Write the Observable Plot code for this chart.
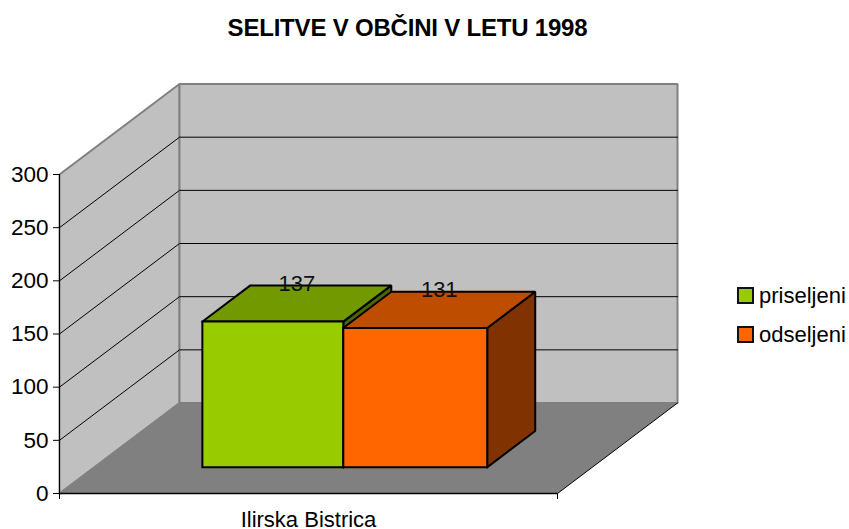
<!DOCTYPE html>
<html>
<head>
<meta charset="utf-8">
<script src="https://cdn.jsdelivr.net/npm/d3@7"></script>
<script src="https://cdn.jsdelivr.net/npm/@observablehq/plot@0.6"></script>
<style>
  html, body { margin: 0; padding: 0; background: #fff; overflow: hidden; }
  #page { position: relative; width: 849px; height: 529px; font-family: "Liberation Sans", Arial, sans-serif; color: #000; }
  #title { height: 56px; width: 815px; text-align: center; font-weight: bold; font-size: 24px; line-height: 56px; letter-spacing: -0.2px; }
  #legend { position: absolute; left: 737px; top: 282px; font-size: 22px; }
  .item { display: flex; align-items: center; height: 39px; margin: 0; }
  .swatch { width: 13px; height: 13px; border: 2px solid #111; margin-right: 5px; margin-top: -12px; flex: none; }
  .lab { margin-top: -12px; }
  svg { display: block; }
</style>
</head>
<body>
<div id="page">
  <div id="title"></div>
  <div id="plot"></div>
  <div id="legend"></div>
</div>
<script>
const chartTitle = "SELITVE V OBČINI V LETU 1998";
const category = "Ilirska Bistrica";
const seriesNames = ["priseljeni", "odseljeni"];
const seriesValues = [137, 131];
const frontColors = ["#99CC00", "#FF6600"];
const topColors = ["#739900", "#BF4D00"];
const sideColors = ["#4D6600", "#803300"];
const yTicks = [0, 50, 100, 150, 200, 250, 300];
const gridValues = [50, 100, 150, 200, 250];

// Oblique 3D projection, expressed in the units of the x and y scales
const DEPTH_X = 120 / 498;
const DEPTH_Y = 85.1;
const project = (u, v, d) => ({x: u + d * DEPTH_X, y: v + d * DEPTH_Y});

const yMax = yTicks[yTicks.length - 1];
// Bars occupy a band in u and in depth
const barEdges = [0.217, 0.5, 0.789], depthFront = 0.29, depthBack = 0.69;

const face = (corners, options) =>
  Plot.line([...corners, corners[0]].map(c => project(...c)), {x: "x", y: "y", strokeLinejoin: "miter", strokeLinecap: "square", ...options});

const marks = [];
// walls and floor
marks.push(face([[0,0,0],[0,yMax,0],[0,yMax,1],[0,0,1]], {fill: "#C0C0C0", stroke: "#808080", strokeWidth: 2}));
marks.push(face([[0,0,1],[0,yMax,1],[1,yMax,1],[1,0,1]], {fill: "#C0C0C0", stroke: "#808080", strokeWidth: 2}));
// gridlines
for (const v of gridValues) {
  marks.push(Plot.line([[0,v,0],[0,v,1],[1,v,1]].map(c => project(...c)), {x: "x", y: "y", stroke: "#000", strokeWidth: 1}));
}
marks.push(face([[0,0,0],[1,0,0],[1,0,1],[0,0,1]], {fill: "#808080", stroke: "none"}));
// right floor edge and axis lines
marks.push(Plot.line([[1,0,0],[1,0,1]].map(c => project(...c)), {x: "x", y: "y", stroke: "#000", strokeWidth: 1}));
marks.push(Plot.ruleX([0], {y1: 0, y2: yMax, stroke: "#000", strokeWidth: 1}));
marks.push(Plot.ruleY([0], {x1: 0, x2: 1, stroke: "#000", strokeWidth: 1.5}));
// bars
seriesValues.forEach((value, i) => {
  const u0 = barEdges[i], u1 = barEdges[i + 1];
  const style = {stroke: "#000", strokeWidth: 2};
  marks.push(face([[u1,0,depthFront],[u1,value,depthFront],[u1,value,depthBack],[u1,0,depthBack]], {fill: sideColors[i], ...style}));
  marks.push(face([[u0,value,depthFront],[u1,value,depthFront],[u1,value,depthBack],[u0,value,depthBack]], {fill: topColors[i], ...style}));
  marks.push(face([[u0,0,depthFront],[u1,0,depthFront],[u1,value,depthFront],[u0,value,depthFront]], {fill: frontColors[i], ...style}));
});
// value labels
const labelPoints = seriesValues.map((value, i) => ({
  ...project((barEdges[i] + barEdges[i + 1]) / 2, value, (depthFront + depthBack) / 2),
  value
}));
marks.push(Plot.text(labelPoints, {x: "x", y: "y", text: d => String(d.value), dy: -20, fontSize: 22, fill: "#111"}));
// axes
marks.push(Plot.axisY({ticks: yTicks, tickSize: 6, tickPadding: 5, fontSize: 22.5, tickFormat: String, label: null, stroke: "#000", strokeWidth: 1, fill: "#000"}));
marks.push(Plot.axisX({ticks: [0, 1], tickSize: 6, tickFormat: () => "", label: null, stroke: "#000", strokeWidth: 1}));
marks.push(Plot.text([category], {x: 0.5, y: 0, text: d => d, dy: 26, fontSize: 22, fill: "#000"}));

const chart = Plot.plot({
  width: 849,
  height: 473,
  marginTop: 118,
  marginBottom: 36,
  marginLeft: 59,
  marginRight: 292,
  style: {fontFamily: '"Liberation Sans", Arial, sans-serif', background: "transparent", overflow: "visible"},
  x: {domain: [0, 1], range: [59, 557]},
  y: {domain: [0, yMax], range: [437, 118]},
  marks
});
document.getElementById("plot").appendChild(chart);
document.getElementById("title").textContent = chartTitle;
document.getElementById("legend").innerHTML = seriesNames.map((n, i) =>
  `<div class="item"><span class="swatch" style="background:${frontColors[i]}"></span><span class="lab">${n}</span></div>`).join("");
</script>
</body>
</html>
